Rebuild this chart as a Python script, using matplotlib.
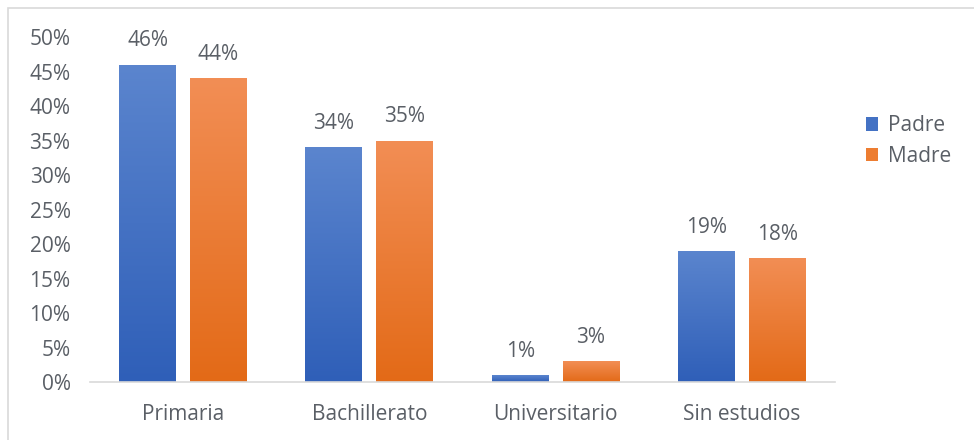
import matplotlib
matplotlib.use("Agg")
import matplotlib.pyplot as plt
import numpy as np
from matplotlib.patches import Rectangle, Patch
from matplotlib.colors import LinearSegmentedColormap

categories = ["Primaria", "Bachillerato", "Universitario", "Sin estudios"]
padre = [0.46, 0.34, 0.01, 0.19]
madre = [0.44, 0.35, 0.03, 0.18]
series_names = ["Padre", "Madre"]
yticks = [0, 0.05, 0.10, 0.15, 0.20, 0.25, 0.30, 0.35, 0.40, 0.45, 0.50]

plt.rcParams['font.family'] = ['Open Sans', 'DejaVu Sans']
txt = "#5A5F66"
fs = 15

fig = plt.figure(figsize=(9.74, 4.4), dpi=100)
ax = fig.add_axes([90/974, (440-382)/440, (835-90)/974, (382-37)/440])

blue_cm = LinearSegmentedColormap.from_list("b", ["#2F5FB8", "#5B85CE"])
orange_cm = LinearSegmentedColormap.from_list("o", ["#E36A17", "#F28E55"])

w = 0.306
off = 0.19
x = np.arange(len(categories))
grad = np.linspace(0, 1, 256).reshape(-1, 1)
for vals, dx, cm in [(padre, -off, blue_cm), (madre, off, orange_cm)]:
    bars = ax.bar(x + dx, vals, width=w, facecolor="none", edgecolor="none", zorder=2)
    for b, v in zip(bars, vals):
        x0 = b.get_x()
        im = ax.imshow(grad, cmap=cm, origin="lower", aspect="auto",
                       extent=[x0, x0 + w, 0, v], zorder=2)
        im.set_clip_path(b)
        ax.text(b.get_x() + w/2, v + 0.019, f"{round(v*100)}%", ha="center", va="bottom",
                fontsize=fs, color=txt)
ax.set_xlim(-0.5, 3.5)
ax.set_ylim(0, 0.5)

ax.set_yticks(yticks)
ax.set_yticklabels([f"{round(t*100)}%" for t in yticks])
ax.set_xticks(x)
ax.set_xticklabels(categories)
ax.tick_params(axis="both", length=0, labelsize=fs, colors=txt)
ax.tick_params(axis="y", pad=14)
ax.tick_params(axis="x", pad=16)
for s in ["top", "right", "left"]:
    ax.spines[s].set_visible(False)
ax.spines["bottom"].set_color("#D9D9D9")
ax.spines["bottom"].set_linewidth(1.2)

handles = [Patch(facecolor="#4472C4", label="Padre"), Patch(facecolor="#ED7D31", label="Madre")]
leg = fig.legend(handles=handles, loc="center left", bbox_to_anchor=(847/974, 1 - 141/440),
                 frameon=False, fontsize=fs, handlelength=0.6, handleheight=0.6,
                 handletextpad=0.45, labelspacing=0.45, labelcolor=txt)

fig.patches.append(Rectangle((8/974, -0.05), 1.1, (440-8)/440 + 0.05, transform=fig.transFigure,
                             fill=False, edgecolor="#D9D9D9", linewidth=1.2))

fig.savefig("out.png", dpi=100)
